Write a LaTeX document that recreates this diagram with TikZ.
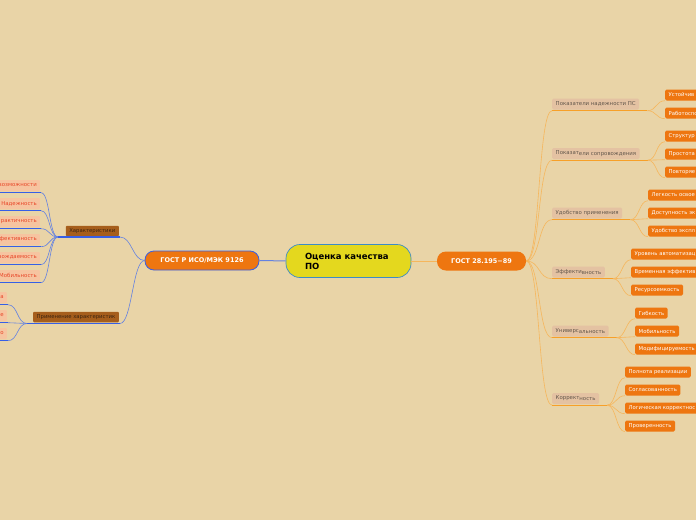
\documentclass[tikz,border=0pt]{standalone}
\usepackage{fontspec}
\setmainfont{DejaVu Sans}
\usepackage{tikz}

\definecolor{bg}{RGB}{233,212,167}
\definecolor{gostorange}{RGB}{238,118,16}
\definecolor{rootyellow}{RGB}{228,216,30}
\definecolor{rootblue}{RGB}{60,140,200}
\definecolor{lineblue}{RGB}{55,95,230}
\definecolor{curveblue}{RGB}{100,130,225}
\definecolor{leafpink}{RGB}{246,196,160}
\definecolor{leafred}{RGB}{232,70,40}
\definecolor{brownbox}{RGB}{166,94,28}
\definecolor{browntext}{RGB}{60,36,16}
\definecolor{grouppink}{RGB}{228,194,162}
\definecolor{grouptext}{RGB}{100,88,76}
\definecolor{lineorange}{RGB}{247,160,40}
\definecolor{curveorange}{RGB}{246,182,92}

\newcommand{\lifted}[1]{\raisebox{0.7pt}{#1}}

\begin{document}
\begin{tikzpicture}[x=1pt,y=-1pt,
    root/.style={draw=rootblue, line width=0.7pt, fill=rootyellow, rounded corners=14pt,
        minimum width=125pt, minimum height=33pt, text width=87pt, align=left, inner xsep=0pt,
        font=\fontsize{8.5}{10}\selectfont\bfseries},
    gost/.style={fill=gostorange, text=white, rounded corners=9pt, minimum height=19pt,
        font=\fontsize{6.5}{8}\selectfont\bfseries},
    charbox/.style={fill=brownbox, text=browntext, rounded corners=1pt, minimum height=10.5pt,
        inner ysep=0pt, inner xsep=3.5pt, anchor=east, font=\fontsize{5.3}{6}\selectfont},
    leftleaf/.style={fill=leafpink, text=leafred, rounded corners=1pt, minimum height=11pt,
        inner ysep=0pt, inner xsep=3pt, text width=50pt, align=right, anchor=east,
        font=\fontsize{5.4}{6}\selectfont},
    group/.style={fill=grouppink, text=grouptext, rounded corners=1.5pt, minimum height=11pt,
        inner ysep=0pt, inner xsep=3.5pt, anchor=west, font=\fontsize{5.4}{6}\selectfont},
    leaf/.style={fill=gostorange, text=white, rounded corners=1.5pt, minimum height=11pt,
        inner ysep=0pt, inner xsep=3.5pt, anchor=west, font=\fontsize{5.3}{6}\selectfont},
    openend/.style={text width=80pt, align=left},
    blueline/.style={draw=lineblue, line width=1.3pt},
    bluecurve/.style={draw=curveblue, line width=0.6pt},
    orangeline/.style={draw=lineorange, line width=1.3pt},
    orangecurve/.style={draw=curveorange, line width=0.6pt}]

\useasboundingbox (0,0) rectangle (696,520);
\clip (0,0) rectangle (696,520);
\fill[bg] (0,0) rectangle (696,520);

\node[root] (root) at (348.5,261) {Оценка качества\\ПО};
\node[gost, minimum width=89pt] (g28) at (481.5,261) {ГОСТ 28.195−89};
\node[gost, minimum width=114pt, draw=lineblue, line width=0.8pt] (giso) at (202,260.5) {ГОСТ Р ИСО/МЭК 9126};
\draw[bluecurve, line width=1pt] (giso) -- (root);
\draw[orangecurve] (root) -- (g28);

% left side
\node[charbox] (ch) at (119,231) {Характеристики};
\node[charbox] (use) at (119,317) {Применение характеристик};
\draw[blueline] (58,237) coordinate (ch-in) -- (120,237) coordinate (ch-out);
\draw[blueline] (27,323.5) coordinate (use-in) -- (120,323.5) coordinate (use-out);
\draw[bluecurve] (giso.west) .. controls +(-12,0) and +(12,0) .. (ch-out);
\draw[bluecurve] (giso.west) .. controls +(-12,0) and +(12,0) .. (use-out);

\node[leftleaf] (l1) at (40,185.5) {возможности};
\node[leftleaf] (l2) at (40,203.5) {Надежность};
\node[leftleaf] (l3) at (40,221.5) {рактичность};
\node[leftleaf] (l4) at (40,239.5) {фективность};
\node[leftleaf] (l5) at (40,257.5) {вождаемость};
\node[leftleaf] (l6) at (40,275.5) {Мобильность};
\foreach \n in {l1,l2,l3,l4,l5,l6}{
    \draw[blueline] ([yshift=-1.5pt]\n.south west) -- ([xshift=1pt,yshift=-1.5pt]\n.south east) coordinate (\n-u);
    \draw[bluecurve] (\n-u) .. controls +(9,0) and +(-9,0) .. (ch-in);
}

\node[leftleaf] (u1) at (7,297.5) {а};
\node[leftleaf] (u2) at (7,315.5) {е};
\node[leftleaf] (u3) at (7,333.5) {о};
\foreach \n in {u1,u2,u3}{
    \draw[blueline] ([yshift=-1.5pt]\n.south west) -- ([xshift=1pt,yshift=-1.5pt]\n.south east) coordinate (\n-u);
    \draw[bluecurve] (\n-u) .. controls +(10,0) and +(-10,0) .. (use-in);
}

% right side
\node[group] (r1) at (552,104) {\lifted{Показат}ели надежности ПС};
\node[group] (r2) at (552,153.5) {\lifted{Показат}ели сопровождения};
\node[group] (r3) at (552,213) {\lifted{Удобств}о применения};
\node[group] (r4) at (552,272) {\lifted{Эффекти}вность};
\node[group] (r5) at (552,331) {\lifted{Универс}альность};
\node[group] (r6) at (552,398.5) {\lifted{Коррект}ность};
\foreach \n in {r1,r2,r3,r4,r5,r6}{
    \draw[orangeline] ([yshift=-1pt]\n.south west) coordinate (\n-in) -- ([xshift=8pt,yshift=-1pt]\n.south east) coordinate (\n-out);
    \draw[orangecurve] (g28.east) .. controls +(14,0) and +(-14,0) .. (\n-in);
}

\node[leaf, openend] (c11) at (665,95) {Устойчив};
\node[leaf, openend] (c12) at (665,113) {Работоспо};
\node[leaf, openend] (c21) at (665,136) {Структур};
\node[leaf, openend] (c22) at (665,154) {Простота};
\node[leaf, openend] (c23) at (665,172) {Повторяе};
\node[leaf, openend] (c31) at (648,195) {Легкость освое};
\node[leaf, openend] (c32) at (648,213) {Доступность эк};
\node[leaf, openend] (c33) at (648,231) {Удобство экспл};
\node[leaf, openend] (c41) at (631,254) {Уровень автоматизац};
\node[leaf, openend] (c42) at (631,272) {Временная эффектив};
\node[leaf] (c43) at (631,290) {Ресурсоемкость};
\node[leaf] (c51) at (635,313) {Гибкость};
\node[leaf] (c52) at (635,331) {Мобильность};
\node[leaf] (c53) at (635,349) {Модифицируемость};
\node[leaf] (c61) at (625,372) {Полнота реализации};
\node[leaf] (c62) at (625,390) {Согласованность};
\node[leaf, openend] (c63) at (625,408) {Логическая корректнос};
\node[leaf] (c64) at (625,426) {Проверенность};

\foreach \p/\c in {r1/c11,r1/c12,r2/c21,r2/c22,r2/c23,r3/c31,r3/c32,r3/c33,
    r4/c41,r4/c42,r4/c43,r5/c51,r5/c52,r5/c53,r6/c61,r6/c62,r6/c63,r6/c64}{
    \draw[orangecurve] (\p-out) .. controls +(9,0) and +(-9,0) .. (\c.south west);
}
\end{tikzpicture}
\end{document}
